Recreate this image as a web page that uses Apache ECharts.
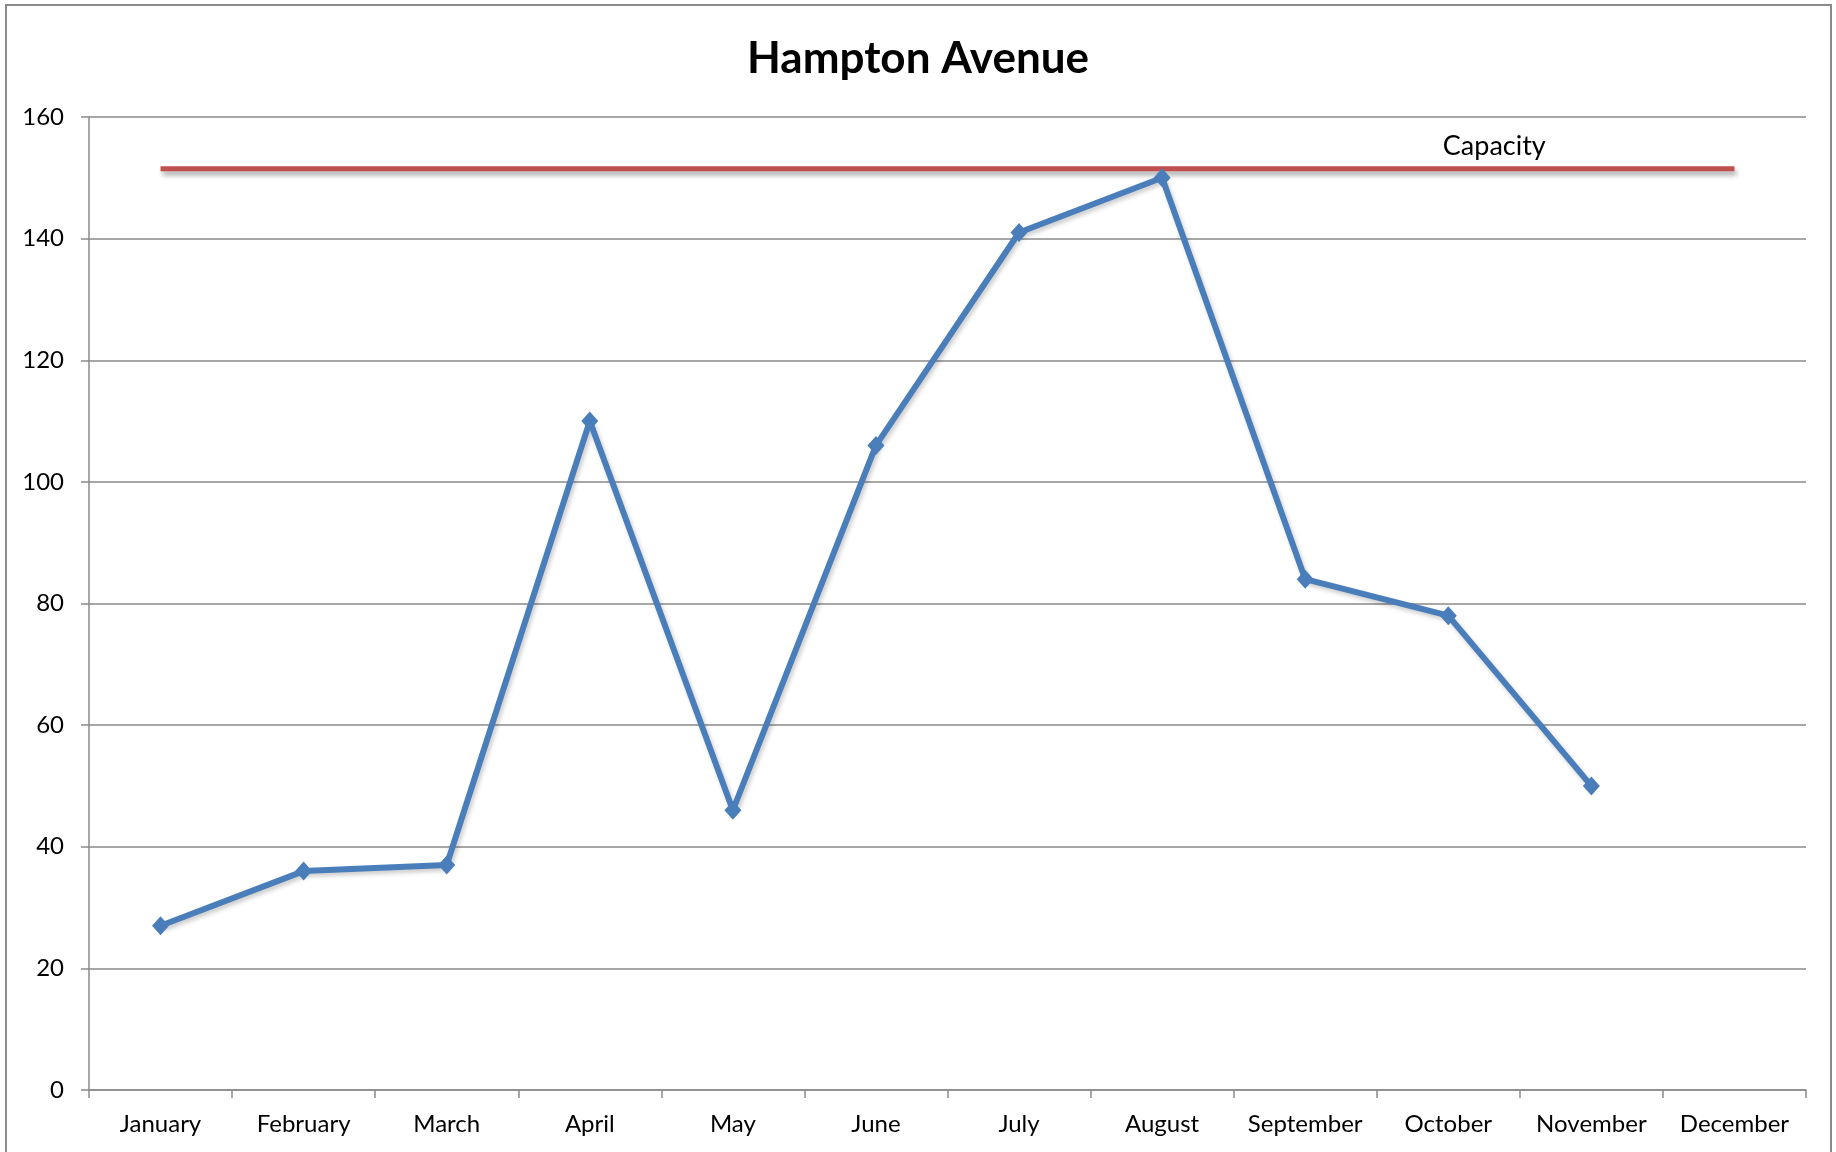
<!DOCTYPE html>
<html>
<head>
<meta charset="utf-8">
<script src="https://cdn.jsdelivr.net/npm/echarts@6/dist/echarts.min.js"></script>
<style>
  html, body { margin: 0; padding: 0; background: #fff; }
  #chart { width: 1836px; height: 1152px; }
</style>
</head>
<body>
<div id="chart"></div>
<script>
// months on the category axis
var months = ["January", "February", "March", "April", "May", "June",
  "July", "August", "September", "October", "November", "December"];
// monthly usage, December has no value yet
var usage = [27, 36, 37, 110, 46, 106, 141, 150, 84, 78, 50, null];
// capacity line, flat across the year
var capacity = [151.5, 151.5, 151.5, 151.5, 151.5, 151.5,
  151.5, 151.5, 151.5, 151.5, 151.5, 151.5];
var capacityLabelMonth = 9; // label sits next to October

var chart = echarts.init(document.getElementById("chart"));

var gridGray = "#8a8a8a";
var font = "Lato, 'Open Sans', sans-serif";

var option = {
  backgroundColor: "#ffffff",
  animation: false,
  title: {
    text: "Hampton Avenue",
    left: "center",
    top: 32,
    textStyle: {
      fontFamily: font,
      fontSize: 44,
      fontWeight: "bold",
      color: "#000000",
    },
  },
  graphic: [
    {
      type: "rect",
      shape: { x: 6, y: 5, width: 1825, height: 1160 },
      style: { fill: "none", stroke: "#8a8a8a", lineWidth: 2 },
      silent: true,
    },
  ],
  grid: {
    left: 89,
    right: 30,
    top: 117,
    bottom: 62,
    containLabel: false,
  },
  xAxis: {
    type: "category",
    data: months,
    boundaryGap: true,
    axisLine: { show: true, lineStyle: { color: gridGray, width: 1.5 } },
    axisTick: {
      show: true,
      interval: 0,
      alignWithLabel: false,
      length: 8,
      lineStyle: { color: gridGray, width: 1.5 },
    },
    axisLabel: {
      interval: 0,
      margin: 22,
      fontFamily: font,
      fontSize: 24,
      color: "#000000",
    },
  },
  yAxis: {
    type: "value",
    min: 0,
    max: 160,
    interval: 20,
    axisLine: { show: true, lineStyle: { color: gridGray, width: 1.5 } },
    axisTick: { show: true, length: 8, lineStyle: { color: gridGray, width: 1.5 } },
    axisLabel: {
      margin: 25,
      fontFamily: font,
      fontSize: 24,
      color: "#000000",
    },
    splitLine: { show: true, lineStyle: { color: gridGray, width: 1.5 } },
  },
  series: [
    {
      name: "Capacity",
      type: "line",
      data: capacity,
      showSymbol: false,
      symbol: "none",
      lineStyle: {
        color: "#C0504D",
        width: 5,
        shadowColor: "rgba(0,0,0,0.35)",
        shadowBlur: 5,
        shadowOffsetX: 2,
        shadowOffsetY: 4,
      },
      markPoint: {
        symbol: "rect",
        symbolSize: 1,
        itemStyle: { color: "rgba(0,0,0,0)" },
        label: {
          show: true,
          formatter: "Capacity",
          position: "top",
          distance: 8,
          offset: [46, 0],
          fontFamily: font,
          fontSize: 27,
          color: "#000000",
        },
        data: [
          {
            coord: [months[capacityLabelMonth], capacity[capacityLabelMonth]],
          },
        ],
      },
      z: 2,
    },
    {
      name: "Hampton Avenue",
      type: "line",
      data: usage,
      symbol: "diamond",
      symbolSize: [17, 19],
      connectNulls: false,
      lineStyle: {
        color: "#4A7EBB",
        width: 6,
        shadowColor: "rgba(0,0,0,0.2)",
        shadowBlur: 4,
        shadowOffsetX: 2,
        shadowOffsetY: 3,
      },
      itemStyle: { color: "#4A7EBB", borderWidth: 0 },
      z: 3,
    },
  ],
};

chart.setOption(option, true);
</script>
</body>
</html>
